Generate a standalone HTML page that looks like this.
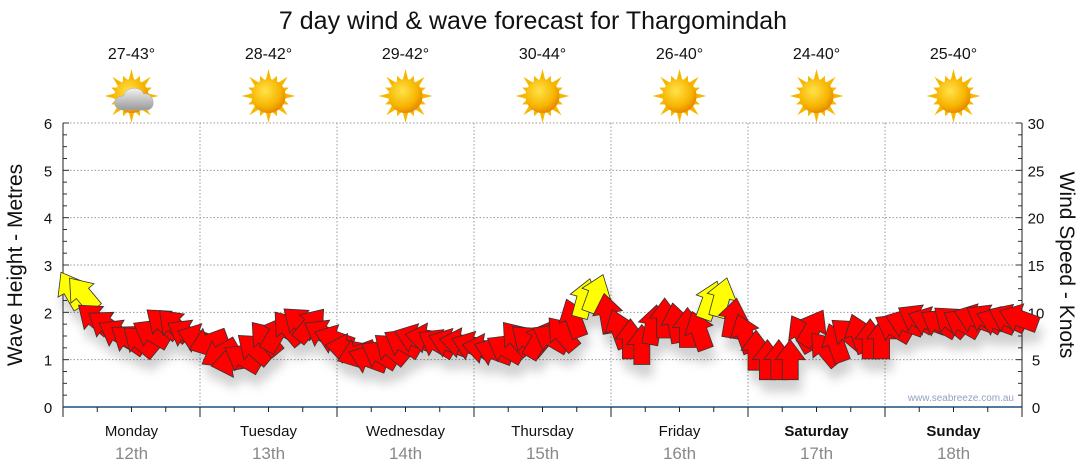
<!DOCTYPE html>
<html><head><meta charset="utf-8">
<style>
body{margin:0;background:#fff;}
svg{display:block;font-family:"Liberation Sans",sans-serif;}
</style></head>
<body>
<svg id="chart" width="1080" height="475" viewBox="0 0 1080 475">
<defs>
<filter id="sh" x="-50%" y="-50%" width="200%" height="250%">
<feDropShadow dx="3" dy="12" stdDeviation="5" flood-color="#000" flood-opacity="0.18"/>
</filter>
<radialGradient id="sun" cx="40%" cy="35%" r="65%">
<stop offset="0" stop-color="#ffe24a"/><stop offset="0.7" stop-color="#f7b500"/><stop offset="1" stop-color="#e88a00"/>
</radialGradient>
<linearGradient id="cloud" x1="0" y1="0" x2="0" y2="1">
<stop offset="0" stop-color="#f2f2f2"/><stop offset="1" stop-color="#9a9a9a"/>
</linearGradient>
</defs>
<text x="533" y="29" font-size="25" text-anchor="middle" fill="#111">7 day wind &amp; wave forecast for Thargomindah</text>
<g id="grid"></g>
<g id="axes"></g>
<g id="icons"></g>
<g id="arrows" filter="url(#sh)"></g>
<text transform="translate(22,265) rotate(-90)" font-size="21" text-anchor="middle" fill="#111">Wave Height - Metres</text>
<text transform="translate(1060,265) rotate(90)" font-size="21" text-anchor="middle" fill="#111">Wind Speed - Knots</text>
<text x="1014" y="401" font-size="10" text-anchor="end" fill="#8fa3bf">www.seabreeze.com.au</text>
</svg>
<script>
const days=["Monday","Tuesday","Wednesday","Thursday","Friday","Saturday","Sunday"];
const dates=["12th","13th","14th","15th","16th","17th","18th"];
const temps=["27-43°","28-42°","29-42°","30-44°","26-40°","24-40°","25-40°"];
const waveTicks=[0,1,2,3,4,5,6];
const windTicks=[0,5,10,15,20,25,30];
const windKnots=[12.4,12.0,9.4,8.7,7.8,7.2,7.0,7.8,8.9,8.7,7.8,7.3,
6.8,5.6,4.7,5.2,6.2,7.3,7.8,8.4,9.0,8.7,7.8,7.2,
6.2,5.6,5.1,5.6,6.2,6.8,7.3,7.3,6.8,6.8,6.8,6.5,
6.2,5.9,6.2,7.3,7.1,7.1,7.3,7.8,9.4,11.5,12.0,9.9,
8.3,7.2,6.6,8.7,9.4,8.9,8.4,8.1,11.3,11.6,9.4,7.8,
6.0,5.0,5.0,5.0,7.8,8.4,6.2,6.8,7.8,7.8,7.2,7.2,
8.4,8.9,9.4,9.1,8.9,9.1,8.9,9.4,9.4,9.1,9.4,9.4];
const windDir=[-30,-40,-50,-55,-60,-55,-50,-60,-50,-45,-60,-70,
-110,-120,-100,-60,-50,-40,30,-40,-50,40,-60,-70,
-80,-110,-70,-60,-50,-60,-70,-80,-60,-70,-80,-70,
-80,-70,-60,-40,-50,30,-60,-40,-20,15,20,-10,
-20,0,0,10,0,-10,0,-20,20,15,10,-20,
0,0,0,0,-30,30,-40,-20,-50,-20,0,0,
-60,-70,-60,-70,-60,-50,-60,-70,-60,-70,-65,-70];
const X0=63,X1=1022,YB=407,YT=123;
const hours=168;
function xAt(h){return X0+(X1-X0)*h/hours;}
function yWave(m){return YB-(YB-YT)*m/6;}
function yWind(k){return YB-(YB-YT)*k/30;}
const NS="http://www.w3.org/2000/svg";
function mk(tag,attrs,parent){const e=document.createElementNS(NS,tag);for(const k in attrs)e.setAttribute(k,attrs[k]);parent.appendChild(e);return e;}
const grid=document.getElementById('grid'),axes=document.getElementById('axes'),icons=document.getElementById('icons'),arrows=document.getElementById('arrows');
waveTicks.forEach((v,i)=>{
  const y=yWave(v);
  if(v>0){const l=mk('line',{x1:X0,x2:X1,y1:y,y2:y,stroke:'#999','stroke-dasharray':'1.5,2'},grid);
  
  }
  const t=mk('text',{x:48,y:y+6,'font-size':15,'text-anchor':'middle',fill:'#111'},axes);t.textContent=v;
  
  
  const t2=mk('text',{x:1036,y:y+6,'font-size':15,'text-anchor':'middle',fill:'#111'},axes);t2.textContent=windTicks[i];
  
  
});
for(let m=0;m<=6;m+=0.25){const y=yWave(m);mk('line',{x1:X0,x2:X0+(m%1===0?6:4),y1:y,y2:y,stroke:'#333'},axes);mk('line',{x1:X1,x2:X1-(m%1===0?6:4),y1:y,y2:y,stroke:'#333'},axes);}
for(let d=1;d<7;d++){const x=xAt(d*24);const l=mk('line',{x1:x,x2:x,y1:YT,y2:YB,stroke:'#999','stroke-dasharray':'1.5,2'},grid);
  
  }
mk('line',{x1:X0,x2:X0,y1:YT,y2:YB,stroke:'#222'},axes);
mk('line',{x1:X1,x2:X1,y1:YT,y2:YB,stroke:'#222'},axes);
mk('line',{x1:X0,x2:X1,y1:YB,y2:YB,stroke:'#1e4f7a','stroke-width':1.5},axes);
for(let h=0;h<=hours;h+=6){const x=xAt(h);mk('line',{x1:x,x2:x,y1:YB,y2:YB+(h%24===0?10:5),stroke:'#222'},axes);}
days.forEach((d,i)=>{
  const cx=xAt(i*24+12);
  const t=mk('text',{x:cx,y:436,'font-size':15,'text-anchor':'middle',fill:'#111','font-weight':i>=5?'bold':'normal'},axes);t.textContent=d;
  
  
  const t2=mk('text',{x:cx,y:459,'font-size':17,'text-anchor':'middle',fill:'#888'},axes);t2.textContent=dates[i];
  
  
  const t3=mk('text',{x:cx,y:59,'font-size':16,'text-anchor':'middle',fill:'#111'},icons);t3.textContent=temps[i];
  
  
  const g=mk('g',{transform:`translate(${cx},96)`},icons);
  
  
  for(let r=0;r<16;r++){const a=r*22.5;const len=r%2?22:27;mk('polygon',{points:`-3,-15 0,-${len} 3,-15`,fill:'#f5b800',transform:`rotate(${a})`},g);}
  mk('circle',{r:17,fill:'url(#sun)'},g);
  if(i===0){mk('path',{d:'M-8,14 C-20,14 -20,0 -8,0 C-6,-10 10,-10 12,-2 C22,-4 26,12 16,14 Z',fill:'url(#cloud)',stroke:'#aaa','stroke-width':0.5},g);}
});
const arrowPts="-8,20 8,20 8,0 15,0 0,-20 -15,0 -8,0";
windKnots.forEach((k,i)=>{
  const h=i*2;
  const x=xAt(h)+8,y=yWind(k);
  const p=mk('polygon',{points:arrowPts,fill:k>=11?'#ffff00':'#ff0000',stroke:'#333','stroke-width':0.8,transform:`translate(${x},${y}) rotate(${windDir[i]})`},arrows);
  
  
});
</script>
</body></html>
